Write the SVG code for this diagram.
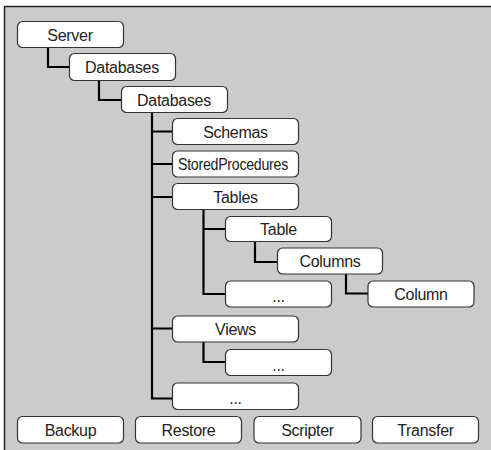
<svg xmlns="http://www.w3.org/2000/svg" width="491" height="450" viewBox="0 0 491 450">
<style>
.n rect{fill:#fff;stroke:#333;stroke-width:1.2}
.n text{font-family:"Liberation Sans",Arial,sans-serif;font-size:16px;fill:#222;text-anchor:middle;letter-spacing:-0.3px}
#conn path{fill:none;stroke:#000;stroke-width:2.2}
</style>
<rect x="4.5" y="6.5" width="500" height="460" fill="#cbcbcb" stroke="#222" stroke-width="1.5"/>
<g id="conn">
<path d="M48,48 V67 H69"/>
<path d="M99,80 V100 H121"/>
<path d="M152,113 V398.5 H173 M152,131.5 H172 M152,164 H172 M152,197 H172 M152,328.5 H173"/>
<path d="M203.5,210 V294 H225 M203.5,229 H225"/>
<path d="M255,242 V262 H277"/>
<path d="M346,274 V293.5 H368"/>
<path d="M203.5,342 V362 H225"/>
</g>
<g id="server" class="n"><rect x="17.5" y="21.5" width="106" height="26" rx="5"/><text x="70" y="40.5">Server</text></g>
<g id="databases1" class="n"><rect x="69.5" y="53.5" width="106" height="27" rx="5"/><text x="122" y="73">Databases</text></g>
<g id="databases2" class="n"><rect x="121.5" y="86.5" width="106" height="26" rx="5"/><text x="174" y="105.5">Databases</text></g>
<g id="schemas" class="n"><rect x="172.5" y="118.5" width="126" height="26" rx="5"/><text x="235.5" y="137.5">Schemas</text></g>
<g id="storedprocedures" class="n"><rect x="172.5" y="151" width="126" height="26" rx="5"/><text x="233" y="170" textLength="110" lengthAdjust="spacingAndGlyphs">StoredProcedures</text></g>
<g id="tables" class="n"><rect x="172.5" y="183.5" width="126" height="26" rx="5"/><text x="235.5" y="202.5">Tables</text></g>
<g id="table" class="n"><rect x="225.5" y="216.5" width="106" height="25" rx="5"/><text x="278.5" y="235">Table</text></g>
<g id="columns" class="n"><rect x="277.5" y="248" width="105" height="26" rx="5"/><text x="330" y="267">Columns</text></g>
<g id="tables-more" class="n"><rect x="225.5" y="281" width="106" height="26" rx="5"/><text x="278.5" y="302">...</text></g>
<g id="column" class="n"><rect x="368" y="281" width="106" height="26" rx="5"/><text x="421" y="300">Column</text></g>
<g id="views" class="n"><rect x="172.5" y="316" width="126" height="26" rx="5"/><text x="235.5" y="335">Views</text></g>
<g id="views-more" class="n"><rect x="225.5" y="349.5" width="106" height="26" rx="5"/><text x="278.5" y="370.5">...</text></g>
<g id="more" class="n"><rect x="172.5" y="383" width="126" height="26.5" rx="5"/><text x="235.5" y="404">...</text></g>
<g id="backup" class="n"><rect x="17.5" y="416.5" width="106" height="26.5" rx="5"/><text x="70.5" y="435.5">Backup</text></g>
<g id="restore" class="n"><rect x="135.5" y="416.5" width="106" height="26.5" rx="5"/><text x="188.5" y="435.5">Restore</text></g>
<g id="scripter" class="n"><rect x="254" y="416.5" width="107" height="26.5" rx="5"/><text x="307.5" y="435.5">Scripter</text></g>
<g id="transfer" class="n"><rect x="372.5" y="416.5" width="106" height="26.5" rx="5"/><text x="425.5" y="435.5">Transfer</text></g>
</svg>
